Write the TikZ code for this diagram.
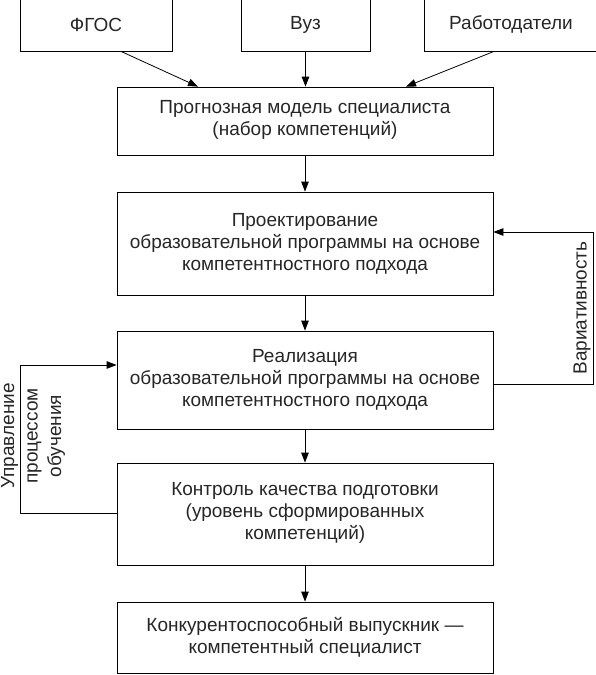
\documentclass[tikz,border=0pt]{standalone}
\usepackage{fontspec}
\setmainfont{Liberation Sans}
\usetikzlibrary{arrows.meta,calc}
\begin{document}
\begin{tikzpicture}[x=1pt,y=-1pt,
  box/.style={draw=black,line width=0.8pt,rectangle,align=center,inner sep=0pt,
    font=\fontsize{19}{22}\selectfont,text=black!85},
  arr/.style={line width=0.8pt,-{Triangle[length=10pt,width=7.5pt]}},
  lbl/.style={font=\fontsize{19}{23.5}\selectfont,align=center,inner sep=0pt,text=black!85}]
\useasboundingbox (0,0) rectangle (596,675);
\node[box,minimum width=152pt,minimum height=53pt] (fgos) at (96,24.5) {ФГОС};
\node[box,minimum width=129pt,minimum height=53pt] (vuz) at (305.5,24.5) {Вуз};
\node[box,minimum width=174pt,minimum height=53pt] (rab) at (511,24.5) {Работодатели};
\node[box,minimum width=376pt,minimum height=68pt,text depth=6pt] (b2) at (305,121) {Прогнозная модель специалиста\\(набор компетенций)};
\node[box,minimum width=376pt,minimum height=103pt] (b3) at (305,243.5) {Проектирование\\образовательной программы на основе\\компетентностного подхода};
\node[box,minimum width=376pt,minimum height=98pt] (b4) at (305,380) {Реализация\\образовательной программы на основе\\компетентностного подхода};
\node[box,minimum width=376pt,minimum height=102pt,text depth=6pt] (b5) at (305,514) {Контроль качества подготовки\\(уровень сформированных\\компетенций)};
\node[box,minimum width=376pt,minimum height=71pt] (b6) at (305,637.5) {Конкурентоспособный выпускник —\\компетентный специалист};
\draw[arr] ([xshift=25pt]fgos.south) -- ([xshift=-107pt]b2.north);
\draw[arr] (vuz.south) -- (vuz.south |- b2.north);
\draw[arr] ([xshift=-17pt]rab.south) -- ([xshift=101pt]b2.north);
\draw[arr] (b2.south) -- (b3.north);
\draw[arr] (b3.south) -- (b4.north);
\draw[arr] (b4.south) -- (b5.north);
\draw[arr] (b5.south) -- (b6.north);
\coordinate (rc) at (593,384);
\coordinate (lc) at (20,513);
\draw[arr] (b4.east |- rc) -- (rc) |- ([yshift=11.5pt]b3.east);
\draw[arr] (b5.west |- lc) -- (lc) |- ([yshift=15pt]b4.west);
\node[lbl,rotate=90] (var) at (582,308) {Вариативность};
\node[lbl,rotate=90] (upr) at (33,436) {Управление\\процессом\\обучения};
\end{tikzpicture}
\end{document}
